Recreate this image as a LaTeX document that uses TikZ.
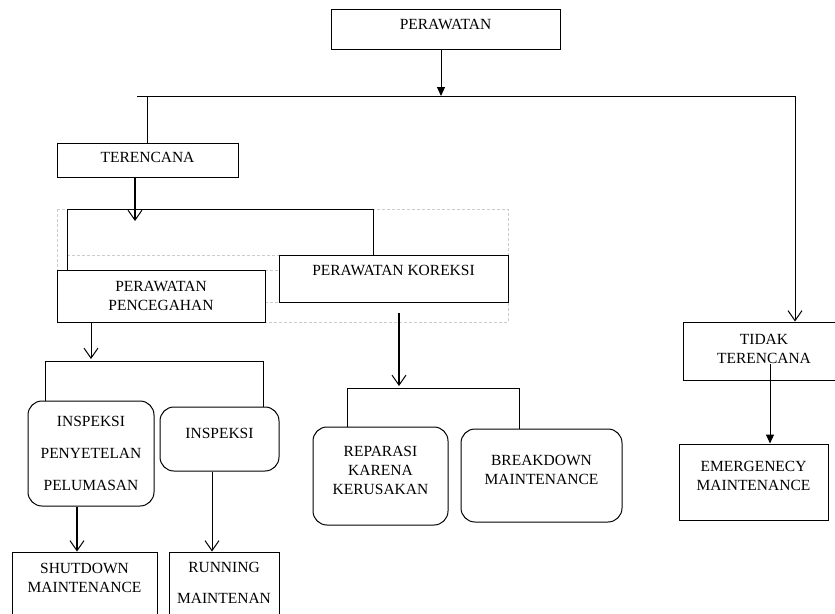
\documentclass[tikz,border=0pt]{standalone}
\usepackage{fontspec}
\setmainfont{Liberation Serif}
\usetikzlibrary{arrows.meta, calc}
\tikzset{
    my-box/.style={
        draw, line width=1pt, inner sep=0pt, align=center,
        font=\fontsize{15.5}{19}\selectfont
    },
    my-round-box/.style={
        my-box, rounded corners=14pt
    },
    my-line/.style={line width=1pt},
    my-thick-line/.style={line width=2pt},
    my-open-arrow/.style={-{Straight Barb[length=10pt,width=14pt,line width=1pt]}},
    my-fill-arrow/.style={-{Triangle[length=9pt,width=8pt]}},
    my-dash/.style={dashed, dash pattern=on 3pt off 2pt, gray!40, line width=0.8pt},
}

\begin{document}
\begin{tikzpicture}[x=1pt, y=-1pt]

        \useasboundingbox (0,0) rectangle (835,613);
        \clip (0,0) rectangle (835,613);

        % DASHED GROUP FRAME (behind the boxes)
        \draw[my-dash] (57,209) rectangle (508,322);
        \draw[my-dash] (67,255) -- (279,255);
        \draw[my-dash] (265,270) -- (279,270);
        \draw[my-dash] (265,302) -- (279,302);

        % TOP
        \node[my-box, minimum width=229pt, minimum height=40pt, text depth=10pt] (PER) at (445.5,29) {PERAWATAN};

        % LEVEL 1
        \node[my-box, minimum width=181pt, minimum height=34pt, text depth=6pt]  (TER) at (147.5,160) {TERENCANA};
        \node[my-box, minimum width=162pt, minimum height=58pt, text depth=5pt]  (TID) at (764,351)   {TIDAK\\TERENCANA};

        % LEVEL 2
        \node[my-box, fill=white, minimum width=208pt, minimum height=52pt]                   (PP)  at (161,296)   {PERAWATAN\\PENCEGAHAN};
        \node[my-box, fill=white, minimum width=229pt, minimum height=47pt, text depth=17pt] (PK)  at (393.5,278.5) {PERAWATAN KOREKSI};
        \node[my-box, minimum width=149pt, minimum height=76pt, text depth=12pt] (EMG) at (753.5,482) {EMERGENECY\\MAINTENANCE};

        % LEVEL 3
        \node[my-round-box, minimum width=126pt, minimum height=105pt]                   (IPP) at (91,453.5)  {INSPEKSI\\[13pt]PENYETELAN\\[13pt]PELUMASAN};
        \node[my-round-box, minimum width=119pt, minimum height=64pt, text depth=12pt]  (INS) at (219.5,439)  {INSPEKSI};
        \node[my-round-box, minimum width=135pt, minimum height=98pt, text depth=12pt]  (REP) at (380.5,476)  {REPARASI\\KARENA\\KERUSAKAN};
        \node[my-round-box, minimum width=161pt, minimum height=93pt, text depth=12pt]  (BRK) at (541.5,475.5) {BREAKDOWN\\MAINTENANCE};

        % LEVEL 4
        \node[my-box, minimum width=145pt, minimum height=88pt, text depth=36pt] (SHUT) at (84.5,596) {SHUTDOWN\\MAINTENANCE};
        \node[my-box, minimum width=110pt, minimum height=88pt, text depth=27pt] (RUN)  at (224,596)  {RUNNING\\[12pt]MAINTENAN};

        % CONNECTOR POINTS
        \coordinate (PEROUT) at ($(PER.south) + (-4.5,0)$);
        \coordinate (BUSL)   at (137,96);
        \coordinate (BUSR)   at (795,96);
        \coordinate (TEROUT) at (135,177);
        \coordinate (TEREND) at (135,221);
        \coordinate (BRL)    at (67,209);
        \coordinate (BRR)    at (373,209);
        \coordinate (PPOUT)  at (91,322);
        \coordinate (PPEND)  at (91,359);
        \coordinate (BR2L)   at (45,361);
        \coordinate (BR2R)   at (263,361);
        \coordinate (PKOUT)  at (399,313);
        \coordinate (PKEND)  at (399,386);
        \coordinate (BR3L)   at (347,388);
        \coordinate (BR3R)   at (519,388);
        \coordinate (TIDOUT) at (770,364);

        % PERAWATAN CONNECTIONS
        \draw[my-line, my-fill-arrow] (PEROUT) -- (PEROUT |- BUSL);
        \draw[my-line] (BUSL) -- (BUSR);
        \draw[my-line, my-open-arrow] (BUSR) -- (BUSR |- TID.north);
        \draw[my-line] (TER.north |- BUSL) -- (TER.north);

        % TERENCANA CONNECTIONS
        \draw[my-thick-line, my-open-arrow] (TEROUT) -- (TEREND);
        \draw[my-line] (BRL |- PP.north) -- (BRL) -- (BRR) -- (BRR |- PK.north);

        % PENCEGAHAN CONNECTIONS
        \draw[my-line, my-open-arrow] (PPOUT) -- (PPEND);
        \draw[my-line] (BR2L |- IPP.north) -- (BR2L) -- (BR2R) -- (BR2R |- INS.north);
        \draw[my-thick-line, my-open-arrow] (77,0 |- IPP.south) -- (77,0 |- SHUT.north);
        \draw[my-line, my-open-arrow] (212,0 |- INS.south) -- (212,0 |- RUN.north);

        % KOREKSI CONNECTIONS
        \draw[my-thick-line, my-open-arrow] (PKOUT) -- (PKEND);
        \draw[my-line] (BR3L |- REP.north) -- (BR3L) -- (BR3R) -- (BR3R |- BRK.north);

        % TIDAK TERENCANA CONNECTIONS
        \draw[my-line, my-fill-arrow] (TIDOUT) -- (TIDOUT |- EMG.north);

    \end{tikzpicture}
\end{document}
